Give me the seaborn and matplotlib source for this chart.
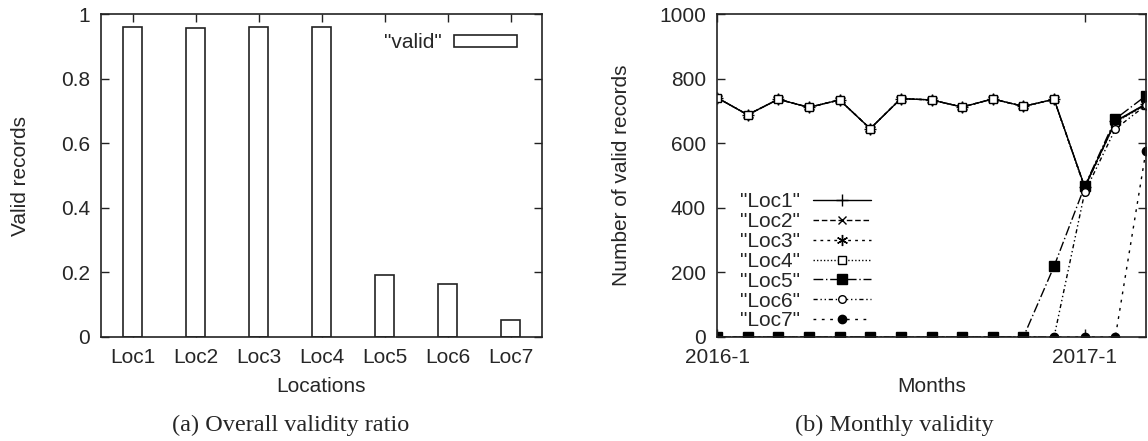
import numpy as np
import pandas as pd
import seaborn as sns
import matplotlib.pyplot as plt

# datos
locations = ["Loc1", "Loc2", "Loc3", "Loc4", "Loc5", "Loc6", "Loc7"]
valid_ratio = [0.961, 0.958, 0.961, 0.959, 0.193, 0.165, 0.052]

months = list(range(15))
month_ticks = [0, 12]
month_labels = ["2016-1", "2017-1"]

loc1 = [741, 688, 736, 711, 734, 645, 738, 734, 712, 737, 714, 736, 465, 668, 722]
loc2 = [741, 688, 736, 711, 734, 645, 738, 734, 712, 737, 714, 736, 463, 666, 720]
loc3 = [741, 688, 736, 711, 734, 645, 738, 734, 712, 737, 714, 736, 464, 667, 721]
loc4 = [741, 688, 736, 711, 734, 645, 738, 734, 712, 737, 714, 736, 462, 665, 719]
loc5 = [0, 0, 0, 0, 0, 0, 0, 0, 0, 0, 0, 219, 467, 675, 747]
loc6 = [0, 0, 0, 0, 0, 0, 0, 0, 0, 0, 0, 0, 448, 644, 718]
loc7 = [0, 0, 0, 0, 0, 0, 0, 0, 0, 0, 0, 0, 0, 0, 577]

series = {"Loc1": loc1, "Loc2": loc2, "Loc3": loc3, "Loc4": loc4,
          "Loc5": loc5, "Loc6": loc6, "Loc7": loc7}

# estilo de cada serie (tipo gnuplot)
estilos = {
    "Loc1": dict(linestyle="-", marker="+", ms=8, mew=1.0, mfc="k"),
    "Loc2": dict(linestyle=(0, (4, 2)), marker="x", ms=6, mew=1.0, mfc="k"),
    "Loc3": dict(linestyle=(0, (2, 3)), marker=(6, 2, 0), ms=8, mew=1.0, mfc="k"),
    "Loc4": dict(linestyle=(0, (1, 1.5)), marker="s", ms=6, mew=1.0, mfc="white"),
    "Loc5": dict(linestyle=(0, (7, 2, 1, 2)), marker="s", ms=7, mew=1.0, mfc="k"),
    "Loc6": dict(linestyle=(0, (3, 2, 1, 2, 1, 2)), marker="o", ms=5.5, mew=1.0, mfc="white"),
    "Loc7": dict(linestyle=(0, (2, 4)), marker="o", ms=6, mew=1.0, mfc="k"),
}

df_bar = pd.DataFrame({"Location": locations, "Valid": valid_ratio})
df_lin = pd.concat(
    [pd.DataFrame({"Month": months, "Records": v, "Loc": k}) for k, v in series.items()],
    ignore_index=True,
)

sns.set_style("ticks")
plt.rcParams["font.family"] = ["Liberation Sans", "DejaVu Sans"]
plt.rcParams["font.size"] = 15
plt.rcParams["axes.edgecolor"] = "#222222"

fig = plt.figure(figsize=(11.48, 4.41), dpi=100)
ax1 = fig.add_axes([101 / 1148, 104 / 441, 441 / 1148, 323 / 441])
ax2 = fig.add_axes([717 / 1148, 104 / 441, 429 / 1148, 323 / 441])

# (a) barras
sns.barplot(data=df_bar, x="Location", y="Valid", ax=ax1, width=0.3,
            color="white", edgecolor="#222222", linewidth=1.2, saturation=1)
for p in ax1.patches:
    p.set_facecolor("white")
ax1.set_xlim(-0.5, 6.5)
ax1.set_ylim(0, 1)
ax1.set_yticks([0, 0.2, 0.4, 0.6, 0.8, 1.0])
ax1.set_yticklabels(["0", "0.2", "0.4", "0.6", "0.8", "1"])
ax1.set_xlabel("Locations", labelpad=7)
ax1.set_ylabel("Valid records", labelpad=22)
ax1.legend(handles=[ax1.patches[0]], labels=['"valid"'], loc="upper right",
           bbox_to_anchor=(0.976, 0.985), frameon=False, markerfirst=False,
           handlelength=3.0, handleheight=0.5, handletextpad=0.6, borderpad=0.2)

# (b) lineas
for k in series:
    sub = df_lin[df_lin["Loc"] == k]
    sns.lineplot(data=sub, x="Month", y="Records", ax=ax2, color="black",
                 linewidth=1.0, mec="black", label=f'"{k}"', **estilos[k])
ax2.set_xlim(0, 14)
ax2.set_ylim(0, 1000)
ax2.set_xticks(month_ticks)
ax2.set_xticklabels(month_labels)
ax2.set_yticks([0, 200, 400, 600, 800, 1000])
ax2.set_xlabel("Months", labelpad=7)
ax2.set_ylabel("Number of valid records", labelpad=20)
ax2.legend(loc="upper left", bbox_to_anchor=(0.03, 0.48), frameon=False,
           markerfirst=False, handlelength=2.8, handletextpad=0.6,
           labelspacing=0.04, borderpad=0)

for ax in (ax1, ax2):
    ax.tick_params(direction="in", top=True, right=True, length=6, width=1,
                   color="#222222", pad=8)
    for s in ax.spines.values():
        s.set_linewidth(1.2)

# pies de figura
fig.text(291 / 1148, 1 - 425 / 441, "(a) Overall validity ratio",
         ha="center", va="center", fontsize=17.5, family=["Liberation Serif", "DejaVu Serif"])
fig.text(894 / 1148, 1 - 425 / 441, "(b) Monthly validity",
         ha="center", va="center", fontsize=17.5, family=["Liberation Serif", "DejaVu Serif"])

fig.savefig("out.png", dpi=100)
